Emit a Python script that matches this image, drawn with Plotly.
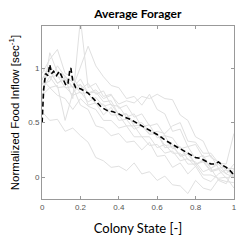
import plotly.graph_objects as go

# shared x grid for individual colony curves
x_grid = [0.0, 0.04, 0.08, 0.12, 0.16, 0.2, 0.24, 0.28, 0.32, 0.36, 0.4, 0.44, 0.48,
          0.52, 0.56, 0.6, 0.64, 0.68, 0.72, 0.76, 0.8, 0.84, 0.88, 0.92, 0.96, 1.0]

colony_1 = [0.85, 0.97, 0.86, 0.9, 0.72, 1.45, 0.82, 0.86, 0.74, 0.76, 0.63, 0.66, 0.55, 0.58, 0.47, 0.49, 0.38, 0.36, 0.26, 0.28, 0.17, 0.2, 0.08, 0.12, 0.03, 0.0]
colony_2 = [0.9, 1.02, 0.92, 0.9, 0.82, 1.02, 1.2, 1.02, 0.92, 0.84, 0.82, 0.72, 0.74, 0.66, 0.76, 0.62, 0.58, 0.42, 0.44, 0.28, 0.3, 0.18, 0.2, 0.08, 0.1, 0.02]
colony_3 = [0.95, 1.08, 1.17, 0.95, 0.92, 0.8, 0.86, 0.76, 0.79, 0.66, 0.65, 0.55, 0.58, 0.46, 0.48, 0.36, 0.38, 0.26, 0.28, 0.16, 0.14, 0.05, 0.08, -0.03, -0.06, 0.08]
colony_4 = [0.7, 1.14, 0.96, 0.93, 0.82, 0.9, 0.77, 0.78, 0.69, 0.7, 0.57, 0.58, 0.49, 0.5, 0.42, 0.4, 0.29, 0.3, 0.19, 0.21, 0.12, 0.15, 0.06, 0.08, 0.03, 0.12]
colony_5 = [0.6, 0.52, 0.53, 0.42, 0.45, 0.38, 0.32, 0.18, 0.15, 0.09, 0.1, 0.06, 0.13, 0.03, 0.05, -0.03, 0.01, -0.07, -0.08, -0.15, -0.03, -0.1, -0.12, -0.02, -0.04, -0.05]
colony_6 = [0.9, 0.82, 0.84, 0.52, 0.77, 0.85, 0.66, 0.68, 0.57, 0.64, 0.52, 0.53, 0.44, 0.47, 0.39, 0.4, 0.27, 0.28, 0.2, 0.23, 0.12, 0.14, 0.05, 0.07, -0.01, 0.02]
colony_7 = [1.0, 0.92, 0.93, 0.82, 0.83, 0.66, 0.62, 0.47, 0.45, 0.38, 0.4, 0.32, 0.33, 0.25, 0.32, 0.19, 0.2, 0.09, 0.13, 0.03, 0.1, -0.01, -0.04, 0.03, 0.07, 0.0]
colony_8 = [0.9, 0.97, 0.86, 0.92, 0.82, 0.85, 0.77, 0.8, 0.72, 0.75, 0.67, 0.7, 0.68, 0.74, 0.72, 0.76, 0.72, 0.71, 0.57, 0.52, 0.37, 0.33, 0.18, 0.14, 0.06, 0.05]
colony_9 = [0.8, 0.92, 0.82, 0.83, 0.75, 0.78, 0.69, 0.73, 0.65, 0.67, 0.57, 0.58, 0.47, 0.48, 0.4, 0.42, 0.4, 0.47, 0.5, 0.33, 0.32, 0.22, 0.22, 0.13, 0.12, 0.4]
colony_10 = [0.85, 0.88, 1.02, 0.92, 0.87, 0.77, 0.77, 0.67, 0.67, 0.57, 0.57, 0.47, 0.47, 0.37, 0.37, 0.27, 0.3, 0.22, 0.22, 0.12, 0.12, 0.02, 0.02, -0.01, 0.0, -0.1]
colony_11 = [0.75, 0.82, 0.75, 0.72, 0.62, 0.72, 0.65, 0.62, 0.52, 0.52, 0.45, 0.47, 0.37, 0.37, 0.29, 0.3, 0.22, 0.24, 0.15, 0.17, 0.1, 0.17, 0.08, 0.14, 0.08, 0.08]

colonies = [colony_1, colony_2, colony_3, colony_4, colony_5, colony_6,
            colony_7, colony_8, colony_9, colony_10, colony_11]

# average forager curve
avg_x = [0.0, 0.008, 0.018, 0.03, 0.04, 0.05, 0.06, 0.075, 0.09, 0.105, 0.115, 0.125, 0.135,
         0.145, 0.15, 0.16, 0.175, 0.2, 0.24, 0.28, 0.31, 0.34, 0.37, 0.4, 0.43, 0.46, 0.49,
         0.53, 0.57, 0.61, 0.65, 0.69, 0.73, 0.77, 0.8, 0.83, 0.86, 0.88, 0.9, 0.92, 0.94,
         0.96, 0.98, 1.0]
avg_y = [0.5, 0.8, 0.95, 0.93, 1.03, 0.95, 0.97, 0.93, 0.97, 0.92, 0.88, 0.84, 0.86,
         0.99, 1.0, 0.88, 0.82, 0.81, 0.77, 0.70, 0.64, 0.61, 0.6, 0.58, 0.55, 0.53, 0.5,
         0.46, 0.42, 0.38, 0.33, 0.29, 0.25, 0.21, 0.18, 0.17, 0.14, 0.12, 0.12, 0.14, 0.11,
         0.09, 0.06, 0.02]

x_ticks = [0, 0.2, 0.4, 0.6, 0.8, 1]
x_tick_labels = ["0", "0.2", "0.4", "0.6", "0.8", "1"]
y_ticks = [0, 0.5, 1]
y_tick_labels = ["0", "0.5", "1"]

fig = go.Figure()
for c in colonies:
    fig.add_trace(go.Scatter(x=x_grid, y=c, mode="lines",
                             line=dict(color="#e0e0e0", width=1), showlegend=False))
fig.add_trace(go.Scatter(x=avg_x, y=avg_y, mode="lines",
                         line=dict(color="black", width=1.6, dash="5px,3px"), showlegend=False))

axis_common = dict(showgrid=False, zeroline=False, showline=True, linecolor="#999999",
                   linewidth=1, mirror="ticks", ticks="inside", ticklen=3, automargin=False,
                   tickcolor="#999999", tickfont=dict(family="Liberation Sans", size=8, color="#555555"))

fig.update_layout(
    width=244, height=242,
    margin=dict(l=42, r=10, t=26, b=43),
    paper_bgcolor="white", plot_bgcolor="white",
    title=dict(text="<b>Average Forager</b>", x=0.565, xanchor="center", y=0.945, yanchor="middle",
               font=dict(family="Lato", size=12, color="black")),
    xaxis=dict(range=[-0.0005, 1.0005], tickvals=x_ticks, ticktext=x_tick_labels,
               title=dict(text="Colony State [-]", standoff=13,
                          font=dict(family="Lato", size=13, color="black")),
               **axis_common),
    yaxis=dict(range=[-0.2, 1.385], tickvals=y_ticks, ticktext=y_tick_labels,
               title=dict(text="Normalized Food Inflow [sec<sup>-1</sup>]", standoff=6,
                          font=dict(family="Liberation Sans", size=11.5, color="black")),
               **axis_common),
)

fig.write_html("out.html", config={"displayModeBar": False},
               post_script="document.body.style.margin='0';")
